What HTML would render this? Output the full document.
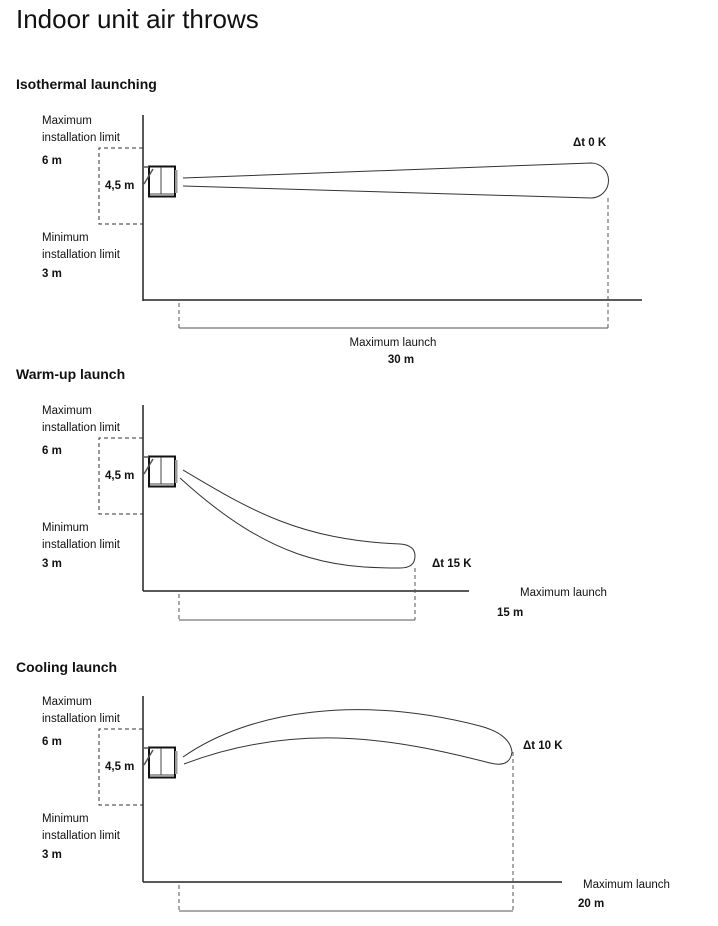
<!DOCTYPE html>
<html><head><meta charset="utf-8"><style>
html,body{margin:0;padding:0;background:#fff;}
svg{display:block;}
text{font-family:"Liberation Sans",sans-serif;fill:#111;}
.s{font-size:11.5px;}
.b{font-size:11.5px;font-weight:bold;}
.h{font-size:14px;font-weight:bold;}
</style></head><body>
<svg width="718" height="926" viewBox="0 0 718 926" xmlns="http://www.w3.org/2000/svg">
<text x="16" y="28" style="font-size:26px;font-weight:300" fill="#222">Indoor unit air throws</text>

<defs>
<g id="unit">
<rect x="149" y="166.5" width="26" height="30" fill="#fff" stroke="#111" stroke-width="2"/>
<line x1="161" y1="167" x2="161" y2="194" stroke="#444" stroke-width="1"/>
<line x1="150" y1="194" x2="174" y2="194" stroke="#444" stroke-width="1"/>
<rect x="175" y="170" width="2.5" height="23" fill="#999"/>
<line x1="143" y1="167" x2="149" y2="167" stroke="#555" stroke-width="1.5"/>
<line x1="144" y1="184" x2="153" y2="169" stroke="#555" stroke-width="1.5"/>
</g>
<g id="sideL">
<text class="s" x="42" y="124">Maximum</text>
<text class="s" x="42" y="141">installation limit</text>
<text class="b" x="42" y="164">6 m</text>
<text class="b" x="105" y="189">4,5 m</text>
<text class="s" x="42" y="241">Minimum</text>
<text class="s" x="42" y="258">installation limit</text>
<text class="b" x="42" y="277">3 m</text>
<path d="M143 148 H99 V224 H143" fill="none" stroke="#333" stroke-width="1" stroke-dasharray="4,3"/>
<line x1="143" y1="115" x2="143" y2="301" stroke="#222" stroke-width="1.5"/>
<use href="#unit"/>
</g>
</defs>

<!-- Section 1 -->
<text class="h" x="16" y="89">Isothermal launching</text>
<use href="#sideL"/>
<line x1="143" y1="300" x2="642" y2="300" stroke="#222" stroke-width="1.5"/>
<path d="M183 178 L591 163 A17.5 17.5 0 0 1 591 198 L183 186" fill="none" stroke="#333" stroke-width="1"/>
<text class="b" x="573" y="146">Δt 0 K</text>
<path d="M179 303 V328 M608 198 V328" stroke="#555" stroke-width="1" stroke-dasharray="4,3"/>
<line x1="179" y1="328" x2="608" y2="328" stroke="#555" stroke-width="1"/>
<text class="s" x="393" y="346" text-anchor="middle">Maximum launch</text>
<text class="b" x="401" y="363" text-anchor="middle">30 m</text>

<!-- Section 2 -->
<text class="h" x="16" y="379">Warm-up launch</text>
<g transform="translate(0,290)"><use href="#sideL"/></g>
<line x1="143" y1="591" x2="469" y2="591" stroke="#222" stroke-width="1.5"/>
<path d="M183 470 C250 510 300 540 400 544 Q415 545 415 556 Q415 568 400 568 C330 568 270 560 180 478" fill="none" stroke="#333" stroke-width="1"/>
<text class="b" x="432" y="567">Δt 15 K</text>
<path d="M179 594 V620 M415 568 V620" stroke="#555" stroke-width="1" stroke-dasharray="4,3"/>
<line x1="179" y1="620" x2="415" y2="620" stroke="#555" stroke-width="1"/>
<text class="s" x="520" y="596">Maximum launch</text>
<text class="b" x="497" y="616">15 m</text>

<!-- Section 3 -->
<text class="h" x="16" y="672">Cooling launch</text>
<g transform="translate(0,581)"><use href="#sideL"/></g>
<line x1="143" y1="882" x2="562" y2="882" stroke="#222" stroke-width="1.5"/>
<path d="M183 757 C250 710 360 695 480 726 Q510 734 512 752 Q510 768 490 763 C400 740 300 720 184 764" fill="none" stroke="#333" stroke-width="1"/>
<text class="b" x="523" y="749">Δt 10 K</text>
<path d="M179 885 V911 M513 752 V911" stroke="#555" stroke-width="1" stroke-dasharray="4,3"/>
<line x1="179" y1="911" x2="513" y2="911" stroke="#555" stroke-width="1"/>
<text class="s" x="583" y="888">Maximum launch</text>
<text class="b" x="578" y="907">20 m</text>
</svg>
</body></html>
